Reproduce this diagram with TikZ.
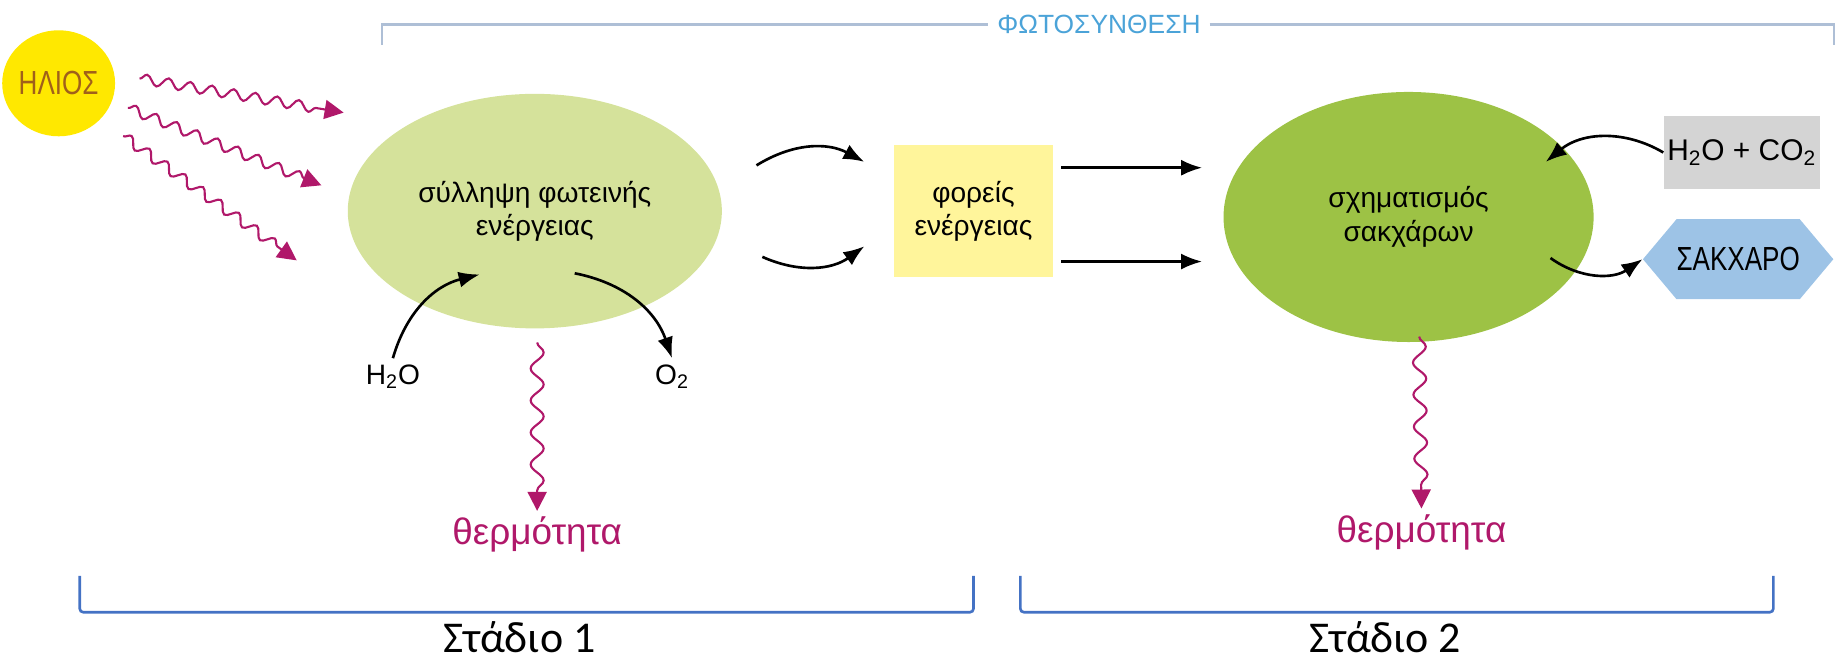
\documentclass[tikz,border=0pt]{standalone}
\usepackage{fontspec}
\setmainfont{Liberation Sans}
\newfontfamily\narrowfont[FakeStretch=0.78]{Liberation Sans}
\newfontfamily\stagefont{Carlito}
\usetikzlibrary{shapes.geometric,shapes.symbols,decorations.pathmorphing,arrows.meta}

\definecolor{sunyellow}{HTML}{FFE800}
\definecolor{suntext}{HTML}{A0601A}
\definecolor{heatred}{HTML}{B0186A}
\definecolor{lightgreen}{HTML}{D5E29B}
\definecolor{leafgreen}{HTML}{9DC245}
\definecolor{boxyellow}{HTML}{FFF59B}
\definecolor{boxgray}{HTML}{D4D4D4}
\definecolor{sugarblue}{HTML}{9DC3E6}
\definecolor{lineblue}{HTML}{AEBFD6}
\definecolor{titleblue}{HTML}{4BA3D8}
\definecolor{braceblue}{HTML}{4472C4}

\tikzset{
  ray/.style={heatred, line width=1.2pt, decorate,
    decoration={snake, amplitude=1mm, segment length=4.4mm, post length=3.5mm},
    -{Triangle[length=3.8mm,width=3.8mm]}},
  heat/.style={ray, decoration={snake, amplitude=1.3mm, segment length=6.4mm, post length=4mm}},
  flow/.style={line width=1.5pt, -{Latex[length=4.2mm,width=3.2mm]}},
  label/.style={font=\fontsize{16}{19}\selectfont, align=center},
  heattext/.style={text=heatred, font=\fontsize{21}{25}\selectfont},
  stagetext/.style={font=\stagefont\fontsize{25}{30}\selectfont, anchor=base},
}

\begin{document}
\begin{tikzpicture}[x=0.02346cm,y=-0.02346cm]
      \useasboundingbox (0,0) rectangle (1568,567);

      % sun
      \node[ellipse,fill=sunyellow,minimum width=1.9cm,minimum height=2.12cm,inner sep=0pt,
            text=suntext,font=\narrowfont\fontsize{19}{22}\selectfont] (sun) at (50,71) {ΗΛΙΟΣ};
      \coordinate (r1s) at (119,67);  \coordinate (r1e) at (293,96);
      \coordinate (r2s) at (109,92);  \coordinate (r2e) at (274,158);
      \coordinate (r3s) at (105,116); \coordinate (r3e) at (253,222);
      \draw[ray] (r1s) -- (r1e);
      \draw[ray] (r2s) -- (r2e);
      \draw[ray] (r3s) -- (r3e);

      % title
      \node[text=titleblue,font=\fontsize{15}{18}\selectfont,inner sep=5pt] (photo) at (937,21) {ΦΩΤΟΣΥΝΘΕΣΗ};
      \draw[lineblue,line width=1.3pt] (326,38) -- (326,21) -- (photo.west);
      \draw[lineblue,line width=1.3pt] (photo.east) -- (1564,21) -- (1564,38);

      % stage 1
      \node[ellipse,fill=lightgreen,minimum width=7.48cm,minimum height=4.69cm,label] (light) at (456,180)
            {σύλληψη φωτεινής\\ενέργειας};
      \node[label] (h2o) at (335,321) {H\textsubscript{2}O};
      \node[label] (o2) at (573,321) {O\textsubscript{2}};
      \coordinate (lin) at (409,234);
      \coordinate (lout) at (490,233);
      \draw[flow] (h2o.north) to[bend left=30] (lin);
      \draw[flow] (lout) to[bend left=30] (o2.north);
      \coordinate (h1s) at (458,292);
      \node[heattext] (heat1) at (458,456) {θερμότητα};
      \draw[heat] (h1s) -- (heat1.north);

      % carriers
      \node[fill=boxyellow,minimum width=3.19cm,minimum height=2.63cm,label] (carrier) at (830,180)
            {φορείς\\ενέργειας};
      \coordinate (c1s) at (645,141); \coordinate (c1e) at (737,138);
      \coordinate (c2s) at (650,219); \coordinate (c2e) at (737,210);
      \draw[flow] (c1s) to[bend left=30] (c1e);
      \draw[flow] (c2s) to[bend right=30] (c2e);
      \coordinate (a1s) at (905,143); \coordinate (a1e) at (1025,143);
      \coordinate (a2s) at (905,223); \coordinate (a2e) at (1025,223);
      \draw[flow] (a1s) -- (a1e);
      \draw[flow] (a2s) -- (a2e);

      % stage 2
      \node[ellipse,fill=leafgreen,minimum width=7.4cm,minimum height=5cm,label] (sugar) at (1201,185)
            {σχηματισμός\\σακχάρων};
      \node[fill=boxgray,minimum width=3.12cm,minimum height=1.45cm,inner sep=1pt,
            font=\fontsize{17}{20}\selectfont] (input) at (1485,130)
            {H\textsubscript{2}O + CO\textsubscript{2}};
      \node[signal,signal to=west and east,signal pointer angle=100,fill=sugarblue,inner sep=0pt,
            minimum width=2.65cm,minimum height=1.6cm,
            font=\narrowfont\fontsize{19}{22}\selectfont] (product) at (1482,221) {ΣΑΚΧΑΡΟ};
      \coordinate (sin) at (1318,138);
      \coordinate (sout) at (1322,220);
      \draw[flow] (input.west) to[bend right=35] (sin);
      \draw[flow] (sout) to[bend right=35] (product.west);
      \coordinate (h2s) at (1210,287);
      \node[heattext] (heat2) at (1212,454) {θερμότητα};
      \draw[heat] (h2s) -- (heat2.north);

      % stages
      \draw[braceblue,line width=1.5pt,rounded corners=2pt] (68,491) -- (68,522) -- (830,522) -- (830,491);
      \draw[braceblue,line width=1.5pt,rounded corners=2pt] (870,491) -- (870,522) -- (1512,522) -- (1512,491);
      \node[stagetext] (st1) at (443,556) {Στάδιο 1};
      \node[stagetext] (st2) at (1181,556) {Στάδιο 2};
\end{tikzpicture}
\end{document}
